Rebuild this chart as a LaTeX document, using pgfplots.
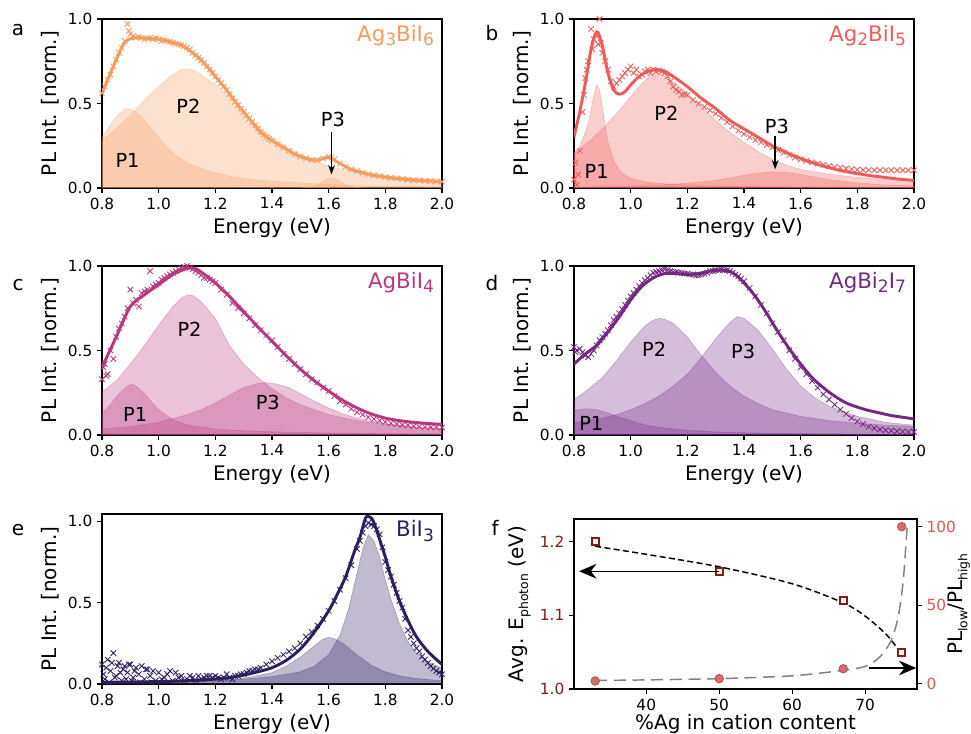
\documentclass[border=0pt]{standalone}
\usepackage{fontspec}
\setmainfont{DejaVu Sans}
\usepackage{graphicx}
\usepackage{pgfplots}
\pgfplotsset{compat=1.18}
\usetikzlibrary{arrows.meta}

\definecolor{cA}{RGB}{248,155,95}
\definecolor{cB}{RGB}{238,92,88}
\definecolor{cC}{RGB}{185,55,125}
\definecolor{cD}{RGB}{115,40,130}
\definecolor{cE}{RGB}{45,30,95}
\definecolor{fdark}{RGB}{135,25,25}
\definecolor{fred}{RGB}{218,88,88}
\definecolor{fcirc}{RGB}{210,110,110}
\definecolor{fcircE}{RGB}{180,80,80}

\newcommand{\sub}[1]{\raisebox{-0.35ex}{\scalebox{0.8}{#1}}}
\newcommand{\tsub}[1]{\raisebox{-0.45ex}{\scalebox{0.62}{#1}}}

\pgfplotsset{
  base/.style={
    scale only axis, anchor=north west, clip mode=individual,
    tick align=outside, major tick length=3.75pt, tick pos=left,
    tick style={line width=0.8pt, black},
    axis line style={line width=0.8pt},
    /pgf/number format/assume math mode=true,
    ticklabel style={font=\fontsize{11.5}{13}\selectfont},
    label style={font=\fontsize{15}{17}\selectfont},
  },
  pl/.style={
    base, width=255pt, height=126.75pt,
    xmin=0.8, xmax=2.0, ymin=0, ymax=1,
    xtick={0.8,1.0,1.2,1.4,1.6,1.8,2.0}, ytick={0,0.5,1},
    xticklabel style={/pgf/number format/.cd, fixed, fixed zerofill, precision=1},
    yticklabel style={/pgf/number format/.cd, fixed, fixed zerofill, precision=1},
    xlabel={Energy (eV)}, ylabel={PL Int. [norm.]},
  },
  peak/.style={fill=#1, fill opacity=0.3, draw=#1, draw opacity=0.35, line width=0.4pt},
  dat/.style={only marks, mark=x, mark size=2.9pt, color=#1, mark options={line width=0.65pt}},
  fit/.style={color=#1, line width=2.2pt, smooth},
}
\newcommand{\plab}[3]{\node[font=\fontsize{14.5}{16}\selectfont] at (axis cs:#1,#2) {#3};}
\newcommand{\letter}[3]{\node[font=\fontsize{15}{17}\selectfont] at (rel axis cs:#1,#2) {#3};}

\begin{document}
\begin{tikzpicture}
\useasboundingbox (0,0) rectangle (728.25pt,550.5pt);

% ---------------- a: Ag3BiI6
\begin{axis}[pl, at={(76.5pt,536.25pt)}]
\addplot[peak=cA] coordinates {(0.80,0.30)(0.82,0.35)(0.84,0.40)(0.86,0.44)(0.88,0.465)(0.89,0.47)(0.90,0.468)(0.92,0.45)(0.94,0.42)(0.96,0.38)(0.98,0.34)(1.00,0.30)(1.03,0.24)(1.06,0.195)(1.10,0.15)(1.15,0.115)(1.20,0.09)(1.25,0.07)(1.30,0.055)(1.40,0.04)(1.50,0.03)(1.60,0.02)(1.70,0.014)(1.80,0.01)(1.90,0.008)(2.00,0.006)} \closedcycle;
\addplot[peak=cA] coordinates {(0.80,0.28)(0.85,0.35)(0.90,0.43)(0.95,0.52)(1.00,0.60)(1.04,0.66)(1.08,0.70)(1.10,0.705)(1.12,0.70)(1.15,0.67)(1.20,0.61)(1.25,0.54)(1.30,0.45)(1.35,0.37)(1.40,0.30)(1.45,0.245)(1.50,0.20)(1.55,0.16)(1.60,0.13)(1.65,0.11)(1.70,0.095)(1.75,0.08)(1.80,0.07)(1.90,0.055)(2.00,0.045)} \closedcycle;
\addplot[peak=cA] coordinates {(1.50,0)(1.54,0.008)(1.56,0.02)(1.58,0.04)(1.60,0.058)(1.61,0.06)(1.62,0.056)(1.64,0.04)(1.66,0.02)(1.68,0.008)(1.72,0)} \closedcycle;
\addplot[fit=cA] coordinates {(0.80,0.56)(0.84,0.72)(0.88,0.86)(0.92,0.89)(0.96,0.885)(1.00,0.88)(1.04,0.865)(1.08,0.845)(1.12,0.80)(1.16,0.74)(1.20,0.66)(1.24,0.58)(1.28,0.49)(1.32,0.41)(1.36,0.33)(1.40,0.28)(1.44,0.24)(1.48,0.20)(1.52,0.175)(1.56,0.165)(1.60,0.18)(1.64,0.145)(1.68,0.11)(1.72,0.09)(1.76,0.075)(1.80,0.065)(1.85,0.055)(1.90,0.047)(1.95,0.042)(2.00,0.037)};
\addplot[dat=cA] coordinates {(0.80,0.56)(0.81,0.60)(0.82,0.64)(0.83,0.67)(0.84,0.72)(0.85,0.76)(0.86,0.80)(0.87,0.83)(0.88,0.87)(0.89,0.97)(0.895,0.93)(0.90,0.91)(0.91,0.90)(0.92,0.89)(0.93,0.895)(0.94,0.89)(0.95,0.88)(0.96,0.885)(0.97,0.89)(0.98,0.88)(0.99,0.885)(1.00,0.88)(1.01,0.87)(1.02,0.875)(1.03,0.87)(1.04,0.865)(1.05,0.86)(1.06,0.855)(1.07,0.85)(1.08,0.845)(1.09,0.84)(1.10,0.83)(1.11,0.82)(1.12,0.80)(1.13,0.785)(1.14,0.77)(1.15,0.755)(1.16,0.74)(1.17,0.72)(1.18,0.70)(1.19,0.68)(1.20,0.66)(1.21,0.64)(1.22,0.62)(1.23,0.60)(1.24,0.58)(1.25,0.555)(1.26,0.53)(1.27,0.51)(1.28,0.49)(1.29,0.47)(1.30,0.45)(1.31,0.43)(1.32,0.41)(1.33,0.39)(1.34,0.37)(1.35,0.35)(1.36,0.33)(1.37,0.315)(1.38,0.30)(1.39,0.29)(1.40,0.28)(1.42,0.26)(1.44,0.24)(1.46,0.22)(1.48,0.20)(1.50,0.185)(1.52,0.175)(1.54,0.165)(1.56,0.165)(1.58,0.175)(1.60,0.185)(1.61,0.18)(1.62,0.17)(1.64,0.145)(1.66,0.125)(1.68,0.11)(1.70,0.10)(1.72,0.09)(1.74,0.08)(1.76,0.075)(1.78,0.07)(1.80,0.065)(1.82,0.06)(1.84,0.057)(1.86,0.053)(1.88,0.05)(1.90,0.047)(1.92,0.045)(1.94,0.043)(1.96,0.041)(1.98,0.039)(2.00,0.037)};
\plab{0.89}{0.165}{P1}
\plab{1.105}{0.485}{P2}
\plab{1.615}{0.405}{P3}
\draw[-{Stealth[length=7pt,width=5pt]}, line width=1.1pt] (axis cs:1.61,0.33) -- (axis cs:1.61,0.08);
\node[anchor=east, text=cA, font=\fontsize{16}{18}\selectfont] at (rel axis cs:0.99,0.9) {Ag\sub{3}BiI\sub{6}};
\letter{-0.247}{0.935}{a}
\end{axis}

% ---------------- b: Ag2BiI5
\begin{axis}[pl, at={(430.5pt,536.25pt)}]
\addplot[peak=cB] coordinates {(0.80,0.20)(0.82,0.25)(0.84,0.33)(0.85,0.38)(0.86,0.46)(0.87,0.55)(0.88,0.61)(0.89,0.58)(0.90,0.48)(0.91,0.37)(0.92,0.27)(0.94,0.16)(0.96,0.105)(0.98,0.075)(1.00,0.058)(1.05,0.037)(1.10,0.027)(1.20,0.017)(1.30,0.012)(1.50,0.008)(1.70,0.005)(2.00,0.003)} \closedcycle;
\addplot[peak=cB] coordinates {(0.80,0.21)(0.85,0.27)(0.90,0.35)(0.95,0.44)(1.00,0.54)(1.04,0.62)(1.07,0.665)(1.09,0.675)(1.11,0.67)(1.15,0.63)(1.20,0.56)(1.25,0.48)(1.30,0.40)(1.35,0.33)(1.40,0.27)(1.45,0.215)(1.50,0.17)(1.55,0.135)(1.60,0.11)(1.65,0.095)(1.70,0.082)(1.80,0.063)(1.90,0.05)(2.00,0.04)} \closedcycle;
\addplot[peak=cB] coordinates {(0.80,0.005)(1.00,0.012)(1.10,0.018)(1.20,0.028)(1.30,0.045)(1.35,0.06)(1.40,0.075)(1.45,0.088)(1.50,0.095)(1.55,0.092)(1.60,0.08)(1.65,0.065)(1.70,0.05)(1.80,0.03)(1.90,0.018)(2.00,0.012)} \closedcycle;
\addplot[dat=cB] coordinates {(0.80,0.05)(0.805,0.15)(0.81,0.02)(0.815,0.08)(0.82,0.22)(0.83,0.45)(0.835,0.55)(0.84,0.65)(0.845,0.70)(0.85,0.75)(0.86,0.94)(0.865,0.82)(0.87,0.88)(0.88,0.90)(0.885,0.85)(0.89,1.0)(0.895,0.86)(0.90,0.80)(0.91,0.75)(0.92,0.70)(0.93,0.63)(0.94,0.60)(0.95,0.62)(0.96,0.64)(0.97,0.66)(0.98,0.68)(0.99,0.70)(1.00,0.72)(1.01,0.68)(1.02,0.70)(1.03,0.66)(1.04,0.67)(1.05,0.69)(1.06,0.70)(1.07,0.68)(1.08,0.70)(1.09,0.69)(1.10,0.695)(1.11,0.69)(1.12,0.68)(1.13,0.66)(1.14,0.63)(1.15,0.60)(1.16,0.58)(1.17,0.57)(1.18,0.55)(1.19,0.555)(1.20,0.55)(1.22,0.52)(1.24,0.50)(1.26,0.48)(1.28,0.46)(1.30,0.44)(1.32,0.415)(1.34,0.39)(1.36,0.365)(1.38,0.34)(1.40,0.32)(1.42,0.30)(1.44,0.285)(1.46,0.27)(1.48,0.255)(1.50,0.24)(1.52,0.225)(1.54,0.21)(1.56,0.195)(1.58,0.18)(1.60,0.17)(1.62,0.16)(1.64,0.152)(1.66,0.145)(1.68,0.137)(1.70,0.13)(1.72,0.125)(1.74,0.12)(1.76,0.115)(1.78,0.112)(1.80,0.108)(1.82,0.107)(1.84,0.106)(1.86,0.105)(1.88,0.105)(1.90,0.105)(1.92,0.105)(1.94,0.105)(1.96,0.105)(1.98,0.105)(2.00,0.105)};
\addplot[fit=cB] coordinates {(0.80,0.30)(0.82,0.45)(0.84,0.62)(0.86,0.82)(0.875,0.91)(0.885,0.92)(0.90,0.84)(0.92,0.68)(0.94,0.58)(0.96,0.555)(0.98,0.57)(1.00,0.61)(1.03,0.66)(1.06,0.69)(1.09,0.70)(1.12,0.69)(1.15,0.66)(1.20,0.60)(1.25,0.53)(1.30,0.47)(1.35,0.40)(1.40,0.35)(1.45,0.30)(1.50,0.25)(1.55,0.21)(1.60,0.175)(1.65,0.145)(1.70,0.12)(1.75,0.10)(1.80,0.085)(1.85,0.072)(1.90,0.062)(1.95,0.052)(2.00,0.045)};
\plab{0.88}{0.095}{P1}
\plab{1.126}{0.44}{P2}
\plab{1.516}{0.362}{P3}
\draw[-{Stealth[length=7pt,width=5pt]}, line width=1.1pt] (axis cs:1.51,0.31) -- (axis cs:1.51,0.11);
\node[anchor=east, text=cB, font=\fontsize{16}{18}\selectfont] at (rel axis cs:0.99,0.9) {Ag\sub{2}BiI\sub{5}};
\letter{-0.241}{0.917}{b}
\end{axis}

% ---------------- c: AgBiI4
\begin{axis}[pl, at={(76.5pt,351pt)}]
\addplot[peak=cC] coordinates {(0.80,0.13)(0.83,0.18)(0.86,0.245)(0.89,0.29)(0.905,0.30)(0.92,0.29)(0.95,0.245)(0.98,0.185)(1.00,0.15)(1.05,0.09)(1.10,0.06)(1.20,0.035)(1.30,0.025)(1.40,0.019)(1.60,0.012)(1.80,0.008)(2.00,0.006)} \closedcycle;
\addplot[peak=cC] coordinates {(0.80,0.255)(0.85,0.32)(0.90,0.42)(0.95,0.53)(1.00,0.65)(1.05,0.76)(1.08,0.81)(1.10,0.828)(1.12,0.825)(1.15,0.79)(1.20,0.69)(1.25,0.53)(1.30,0.42)(1.35,0.34)(1.40,0.275)(1.45,0.22)(1.50,0.18)(1.60,0.12)(1.70,0.085)(1.80,0.065)(1.90,0.05)(2.00,0.04)} \closedcycle;
\addplot[peak=cC] coordinates {(0.80,0.035)(0.90,0.05)(1.00,0.075)(1.10,0.12)(1.15,0.15)(1.20,0.19)(1.25,0.235)(1.30,0.28)(1.35,0.305)(1.38,0.31)(1.42,0.30)(1.46,0.28)(1.50,0.245)(1.55,0.20)(1.60,0.16)(1.65,0.125)(1.70,0.10)(1.80,0.065)(1.90,0.045)(2.00,0.035)} \closedcycle;
\addplot[dat=cC] coordinates {(0.80,0.33)(0.805,0.40)(0.81,0.42)(0.815,0.35)(0.82,0.36)(0.83,0.50)(0.84,0.45)(0.85,0.58)(0.86,0.63)(0.87,0.66)(0.88,0.70)(0.89,0.75)(0.90,0.86)(0.91,0.78)(0.92,0.80)(0.93,0.76)(0.94,0.84)(0.95,0.85)(0.96,0.86)(0.97,0.97)(0.98,0.88)(0.99,0.89)(1.00,0.90)(1.01,0.92)(1.02,0.93)(1.03,0.94)(1.04,0.95)(1.05,0.96)(1.06,0.97)(1.07,0.98)(1.08,0.99)(1.09,0.995)(1.10,1.0)(1.11,0.99)(1.12,0.98)(1.13,0.97)(1.14,0.96)(1.15,0.945)(1.16,0.93)(1.17,0.93)(1.18,0.92)(1.19,0.91)(1.20,0.90)(1.22,0.86)(1.24,0.83)(1.26,0.78)(1.28,0.75)(1.30,0.72)(1.32,0.69)(1.34,0.65)(1.36,0.62)(1.38,0.59)(1.40,0.56)(1.42,0.52)(1.44,0.48)(1.46,0.45)(1.48,0.42)(1.50,0.39)(1.52,0.36)(1.54,0.33)(1.56,0.31)(1.58,0.28)(1.60,0.26)(1.62,0.23)(1.64,0.20)(1.66,0.18)(1.68,0.155)(1.70,0.135)(1.72,0.12)(1.74,0.105)(1.76,0.095)(1.78,0.085)(1.80,0.077)(1.82,0.07)(1.84,0.065)(1.86,0.06)(1.88,0.057)(1.90,0.053)(1.92,0.05)(1.94,0.048)(1.96,0.046)(1.98,0.045)(2.00,0.044)};
\addplot[fit=cC] coordinates {(0.80,0.40)(0.85,0.58)(0.90,0.76)(0.95,0.83)(1.00,0.89)(1.05,0.95)(1.10,0.985)(1.13,0.985)(1.17,0.94)(1.20,0.90)(1.25,0.82)(1.30,0.73)(1.35,0.64)(1.40,0.555)(1.45,0.47)(1.50,0.39)(1.55,0.32)(1.60,0.26)(1.65,0.205)(1.70,0.16)(1.75,0.125)(1.80,0.10)(1.85,0.085)(1.90,0.075)(1.95,0.068)(2.00,0.063)};
\plab{0.917}{0.124}{P1}
\plab{1.109}{0.625}{P2}
\plab{1.385}{0.19}{P3}
\node[anchor=east, text=cC, font=\fontsize{16}{18}\selectfont] at (rel axis cs:0.99,0.9) {AgBiI\sub{4}};
\letter{-0.247}{0.888}{c}
\end{axis}

% ---------------- d: AgBi2I7
\begin{axis}[pl, at={(430.5pt,351pt)}]
\addplot[peak=cD] coordinates {(0.80,0.145)(0.83,0.153)(0.85,0.155)(0.88,0.15)(0.92,0.13)(0.96,0.105)(1.00,0.085)(1.05,0.06)(1.10,0.045)(1.20,0.028)(1.30,0.018)(1.40,0.013)(1.60,0.008)(1.80,0.005)(2.00,0.004)} \closedcycle;
\addplot[peak=cD] coordinates {(0.80,0.21)(0.85,0.27)(0.90,0.34)(0.95,0.44)(1.00,0.55)(1.05,0.645)(1.08,0.68)(1.10,0.69)(1.12,0.685)(1.15,0.66)(1.20,0.58)(1.25,0.47)(1.30,0.37)(1.35,0.29)(1.40,0.23)(1.45,0.185)(1.50,0.15)(1.60,0.11)(1.70,0.085)(1.80,0.07)(1.90,0.058)(2.00,0.05)} \closedcycle;
\addplot[peak=cD] coordinates {(0.80,0.073)(0.85,0.085)(0.90,0.10)(0.95,0.12)(1.00,0.15)(1.05,0.185)(1.10,0.23)(1.15,0.29)(1.20,0.36)(1.25,0.46)(1.30,0.57)(1.35,0.665)(1.375,0.70)(1.40,0.69)(1.45,0.62)(1.50,0.51)(1.55,0.39)(1.60,0.29)(1.65,0.22)(1.70,0.17)(1.80,0.11)(1.90,0.075)(2.00,0.058)} \closedcycle;
\addplot[dat=cD] coordinates {(0.80,0.52)(0.805,0.49)(0.81,0.50)(0.82,0.51)(0.83,0.49)(0.84,0.47)(0.85,0.46)(0.86,0.48)(0.87,0.50)(0.88,0.53)(0.89,0.56)(0.90,0.58)(0.91,0.60)(0.92,0.62)(0.93,0.65)(0.94,0.68)(0.95,0.70)(0.96,0.72)(0.97,0.745)(0.98,0.77)(0.99,0.795)(1.00,0.82)(1.01,0.84)(1.02,0.86)(1.03,0.88)(1.04,0.90)(1.05,0.915)(1.06,0.93)(1.07,0.945)(1.08,0.96)(1.09,0.965)(1.10,0.97)(1.11,0.975)(1.12,0.98)(1.13,0.975)(1.14,0.97)(1.15,0.965)(1.16,0.965)(1.17,0.96)(1.18,0.96)(1.19,0.955)(1.20,0.955)(1.21,0.95)(1.22,0.95)(1.23,0.945)(1.24,0.945)(1.25,0.95)(1.26,0.955)(1.27,0.96)(1.28,0.97)(1.29,0.97)(1.30,0.975)(1.31,0.975)(1.32,0.98)(1.33,0.975)(1.34,0.975)(1.35,0.97)(1.36,0.96)(1.37,0.95)(1.38,0.94)(1.39,0.925)(1.40,0.91)(1.42,0.87)(1.44,0.82)(1.46,0.77)(1.48,0.72)(1.50,0.66)(1.52,0.61)(1.54,0.56)(1.56,0.50)(1.58,0.45)(1.60,0.40)(1.62,0.36)(1.64,0.32)(1.66,0.28)(1.68,0.24)(1.70,0.21)(1.72,0.18)(1.74,0.15)(1.76,0.125)(1.78,0.10)(1.80,0.08)(1.82,0.065)(1.84,0.05)(1.86,0.04)(1.88,0.033)(1.90,0.028)(1.92,0.025)(1.94,0.022)(1.96,0.02)(1.98,0.019)(2.00,0.018)};
\addplot[fit=cD] coordinates {(0.80,0.42)(0.84,0.48)(0.88,0.53)(0.92,0.61)(0.96,0.70)(1.00,0.80)(1.04,0.88)(1.08,0.93)(1.12,0.955)(1.16,0.955)(1.20,0.95)(1.24,0.955)(1.28,0.97)(1.32,0.975)(1.36,0.96)(1.40,0.90)(1.44,0.82)(1.48,0.72)(1.52,0.61)(1.56,0.51)(1.60,0.42)(1.64,0.34)(1.68,0.28)(1.72,0.23)(1.76,0.19)(1.80,0.165)(1.84,0.145)(1.88,0.13)(1.92,0.115)(1.96,0.105)(2.00,0.095)};
\plab{0.861}{0.07}{P1}
\plab{1.083}{0.507}{P2}
\plab{1.397}{0.493}{P3}
\node[anchor=east, text=cD, font=\fontsize{16}{18}\selectfont] at (rel axis cs:0.99,0.9) {AgBi\sub{2}I\sub{7}};
\letter{-0.241}{0.90}{d}
\end{axis}

% ---------------- e: BiI3
\begin{axis}[pl, at={(76.5pt,165pt)}, height=127.5pt, ymax=1.045]
\addplot[peak=cE] coordinates {(0.80,0.005)(1.00,0.01)(1.20,0.02)(1.30,0.035)(1.40,0.07)(1.45,0.11)(1.50,0.165)(1.55,0.235)(1.58,0.275)(1.60,0.287)(1.62,0.28)(1.65,0.25)(1.70,0.18)(1.75,0.115)(1.80,0.075)(1.85,0.05)(1.90,0.035)(2.00,0.02)} \closedcycle;
\addplot[peak=cE] coordinates {(0.80,0.005)(1.00,0.01)(1.20,0.02)(1.30,0.03)(1.40,0.045)(1.50,0.075)(1.55,0.11)(1.60,0.18)(1.64,0.30)(1.67,0.46)(1.70,0.68)(1.72,0.83)(1.74,0.918)(1.76,0.88)(1.78,0.78)(1.80,0.64)(1.82,0.52)(1.85,0.37)(1.88,0.26)(1.91,0.19)(1.95,0.135)(2.00,0.095)} \closedcycle;
\addplot[fit=cE] coordinates {(0.80,0.01)(1.00,0.015)(1.10,0.02)(1.20,0.03)(1.25,0.04)(1.30,0.055)(1.35,0.075)(1.40,0.10)(1.45,0.145)(1.50,0.215)(1.55,0.32)(1.60,0.45)(1.63,0.55)(1.66,0.66)(1.69,0.81)(1.71,0.90)(1.73,1.02)(1.74,1.03)(1.755,1.01)(1.77,0.94)(1.80,0.78)(1.82,0.66)(1.85,0.51)(1.88,0.39)(1.91,0.29)(1.95,0.20)(2.00,0.12)};
\addplot[dat=cE] coordinates {(0.80,0.12)(0.805,0.06)(0.81,0.03)(0.815,0.10)(0.82,0.15)(0.825,0.01)(0.83,0.08)(0.835,0.13)(0.84,0.19)(0.845,0.04)(0.85,0.05)(0.855,0.11)(0.86,0.13)(0.865,0.07)(0.87,0.02)(0.875,0.09)(0.88,0.11)(0.885,0.03)(0.89,0.07)(0.895,0.12)(0.90,0.12)(0.905,0.02)(0.91,0.04)(0.915,0.08)(0.92,0.10)(0.93,0.06)(0.935,0.01)(0.94,0.11)(0.95,0.03)(0.955,0.09)(0.96,0.09)(0.97,0.05)(0.975,0.01)(0.98,0.08)(0.99,0.02)(1.00,0.07)(1.01,0.03)(1.02,0.04)(1.03,0.06)(1.04,0.08)(1.05,0.02)(1.06,0.07)(1.07,0.04)(1.08,0.05)(1.09,0.02)(1.10,0.03)(1.11,0.05)(1.12,0.04)(1.13,0.02)(1.14,0.05)(1.15,0.03)(1.16,0.04)(1.17,0.05)(1.18,0.05)(1.19,0.04)(1.20,0.05)(1.21,0.04)(1.22,0.03)(1.23,0.04)(1.24,0.06)(1.25,0.04)(1.26,0.03)(1.27,0.05)(1.28,0.05)(1.29,0.06)(1.30,0.06)(1.31,0.07)(1.32,0.08)(1.33,0.08)(1.34,0.09)(1.35,0.09)(1.36,0.10)(1.38,0.12)(1.40,0.14)(1.42,0.16)(1.44,0.18)(1.46,0.20)(1.48,0.22)(1.50,0.25)(1.52,0.29)(1.54,0.32)(1.56,0.36)(1.58,0.40)(1.60,0.45)(1.62,0.51)(1.64,0.58)(1.66,0.65)(1.68,0.73)(1.70,0.83)(1.71,0.88)(1.72,0.93)(1.73,0.97)(1.74,0.99)(1.75,0.98)(1.76,0.97)(1.77,0.95)(1.78,0.92)(1.79,0.84)(1.80,0.75)(1.81,0.70)(1.82,0.66)(1.83,0.61)(1.84,0.56)(1.85,0.51)(1.86,0.47)(1.87,0.40)(1.88,0.33)(1.89,0.29)(1.90,0.25)(1.91,0.22)(1.92,0.20)(1.93,0.17)(1.94,0.15)(1.95,0.13)(1.96,0.11)(1.97,0.095)(1.98,0.08)(1.99,0.07)(2.00,0.06)};
\node[anchor=east, text=cE, font=\fontsize{16}{18}\selectfont] at (rel axis cs:0.99,0.9) {BiI\sub{3}};
\letter{-0.247}{0.906}{e}
\end{axis}

% ---------------- f: averages and ratio
\begin{axis}[base, at={(430.5pt,161.25pt)}, width=257.25pt, height=127.5pt,
  xmin=30.1, xmax=77.1, ymin=1.0, ymax=1.231,
  xtick={40,50,60,70}, ytick={1.0,1.1,1.2},
  yticklabel style={color=fdark, /pgf/number format/.cd, fixed, fixed zerofill, precision=1},
  xlabel={\%Ag in cation content}, xlabel style={yshift=4pt},
  ylabel={Avg. E\tsub{photon} (eV)}]
\addplot[black, line width=1.1pt, dash pattern=on 4.5pt off 2.5pt, smooth] coordinates {(33,1.194)(40,1.183)(50,1.166)(60,1.143)(67,1.117)(70,1.099)(73,1.073)(75,1.047)};
\addplot[only marks, mark=square*, mark size=2.6pt, mark options={fill=white, draw=fdark, line width=1.5pt}] coordinates {(33,1.20)(50,1.16)(67,1.12)(75,1.05)};
\draw[-{Stealth[length=13pt,width=11pt]}, line width=1.1pt] (axis cs:50,1.16) -- (axis cs:30.8,1.16);
\letter{-0.23}{0.947}{f}
\end{axis}
\begin{axis}[base, at={(430.5pt,161.25pt)}, width=257.25pt, height=127.5pt,
  clip=false,
  xmin=30.1, xmax=77.1, ymin=-3.4, ymax=104.9,
  axis x line=none, axis y line*=right, ytick pos=right,
  ytick={0,50,100}, yticklabel style={color=fred},
  ylabel={PL\tsub{low}/PL\tsub{high}}, ylabel shift=-13pt]
\addplot[gray, line width=1.1pt, dash pattern=on 9pt off 5pt, smooth] coordinates {(33,2)(40,2.4)(50,3.2)(60,5)(67,8.5)(70,11)(72,17)(73.5,27)(74.5,42)(75.2,65)(75.6,90)(75.8,103)};
\addplot[only marks, mark=*, mark size=3.2pt, mark options={fill=fcirc, draw=fcircE, line width=0.6pt}] coordinates {(33,1.7)(50,3.2)(67,9.5)(75,100)};
\draw[-{Stealth[length=13pt,width=11pt]}, line width=1.1pt] (axis cs:70.5,10) -- (axis cs:77,10);
\end{axis}
\end{tikzpicture}
\end{document}
